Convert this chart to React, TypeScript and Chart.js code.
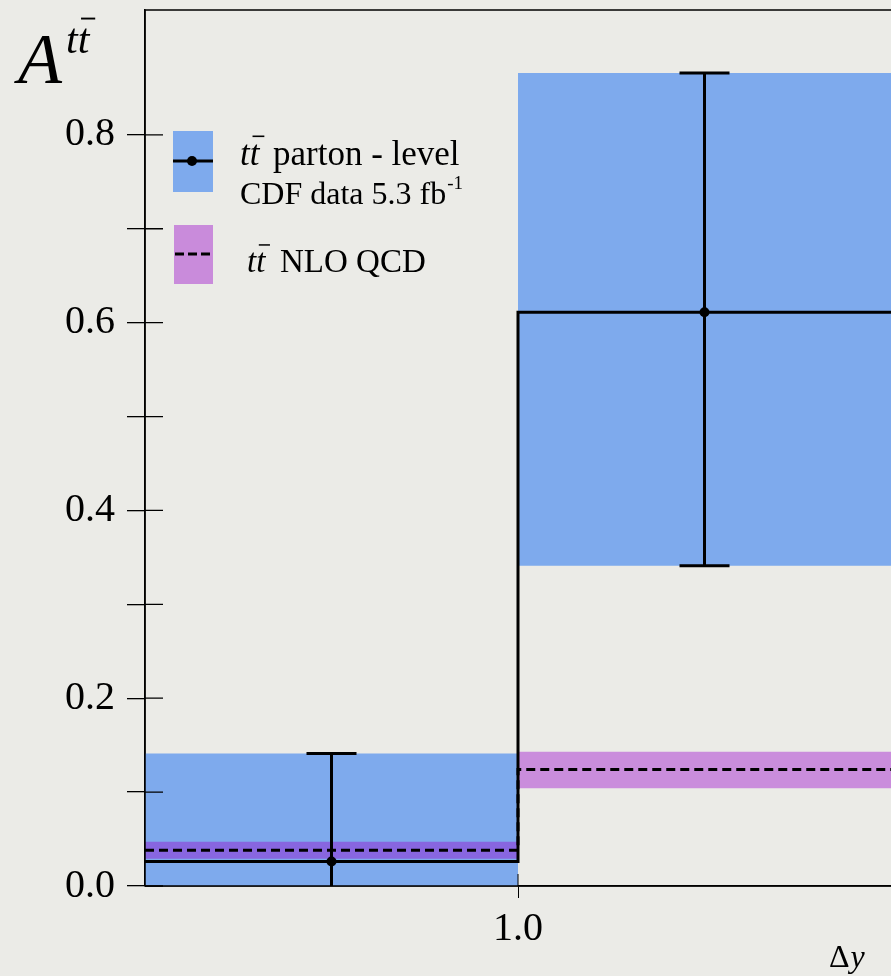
import React, { useRef, useEffect } from 'react';
import { Chart, registerables } from 'chart.js';

Chart.register(...registerables);

// bins in Δy
const binEdges = [0, 1, 2];
// CDF data, parton level
const dataCentral = [0.026, 0.611];
const dataLow = [-0.09, 0.341];
const dataHigh = [0.141, 0.866];
// NLO QCD prediction
const nloCentral = [0.038, 0.124];
const nloLow = [0.029, 0.104];
const nloHigh = [0.047, 0.143];
// axis ticks
const yTickValues = [0, 0.1, 0.2, 0.3, 0.4, 0.5, 0.6, 0.7, 0.8];
const yTickLabels = ['0.0', '', '0.2', '', '0.4', '', '0.6', '', '0.8'];
const xTickValues = [1];
const xTickLabels = ['1.0'];

const SERIF = '"Liberation Serif", "Times New Roman", serif';
const BLUE = 'rgb(126, 170, 237)';
const PURPLE = 'rgba(152, 0, 205, 0.4)';
const BG = '#ebebe7';

const stepPoints = (vals: number[]) =>
  binEdges.map((x, i) => ({ x, y: vals[Math.min(i, vals.length - 1)] }));
const binCentres = binEdges.slice(0, -1).map((e, i) => (e + binEdges[i + 1]) / 2);

// no extra room for edge labels, the plot box is set by hand
const noPadding = (scale: any) => {
  scale.paddingTop = 0;
  scale.paddingBottom = 0;
  scale.paddingLeft = 0;
  scale.paddingRight = 0;
};

// frame lines and tick marks reaching into the plot
const framePlugin = {
  id: 'frame',
  afterDraw(chart: any) {
    const { ctx, chartArea: a, scales } = chart;
    ctx.save();
    ctx.strokeStyle = '#000';
    ctx.lineWidth = 1.5;
    ctx.beginPath();
    ctx.moveTo(a.left, a.bottom);
    ctx.lineTo(a.left, a.top);
    ctx.lineTo(a.right, a.top);
    ctx.moveTo(a.left, a.bottom);
    ctx.lineTo(a.right, a.bottom);
    ctx.stroke();
    ctx.lineWidth = 1.3;
    ctx.beginPath();
    yTickValues.forEach(v => {
      const y = scales.y.getPixelForValue(v);
      ctx.moveTo(a.left, y);
      ctx.lineTo(a.left + 18, y);
    });
    ctx.stroke();
    ctx.lineWidth = 1;
    ctx.beginPath();
    xTickValues.forEach(v => {
      const x = scales.x.getPixelForValue(v);
      ctx.moveTo(x, a.bottom);
      ctx.lineTo(x, a.bottom - 12);
    });
    ctx.stroke();
    ctx.restore();
  },
};

const errorBarPlugin = {
  id: 'errorBars',
  afterDatasetsDraw(chart: any) {
    const { ctx, chartArea: a, scales } = chart;
    ctx.save();
    ctx.beginPath();
    ctx.rect(a.left, a.top, a.right - a.left, a.bottom - a.top);
    ctx.clip();
    ctx.strokeStyle = '#000';
    ctx.lineWidth = 3;
    binCentres.forEach((c, i) => {
      const x = scales.x.getPixelForValue(c);
      const yl = scales.y.getPixelForValue(dataLow[i]);
      const yh = scales.y.getPixelForValue(dataHigh[i]);
      ctx.beginPath();
      ctx.moveTo(x, yl);
      ctx.lineTo(x, yh);
      ctx.moveTo(x - 25, yh);
      ctx.lineTo(x + 25, yh);
      ctx.moveTo(x - 25, yl);
      ctx.lineTo(x + 25, yl);
      ctx.stroke();
    });
    ctx.restore();
  },
};

const drawTTbar = (ctx: CanvasRenderingContext2D, x: number, y: number, size: number) => {
  ctx.font = `italic ${size}px ${SERIF}`;
  ctx.fillText('tt', x, y);
  const w = ctx.measureText('t').width;
  const w2 = ctx.measureText('tt').width;
  ctx.lineWidth = Math.max(1, size / 22);
  ctx.beginPath();
  const barY = y - size * 0.82;
  ctx.moveTo(x + w + size * 0.08, barY);
  ctx.lineTo(x + w2 + size * 0.14, barY);
  ctx.stroke();
  return w2;
};

const textPlugin = {
  id: 'texts',
  afterDraw(chart: any) {
    const { ctx } = chart;
    ctx.save();
    ctx.fillStyle = '#000';
    ctx.strokeStyle = '#000';
    ctx.textBaseline = 'alphabetic';
    ctx.textAlign = 'left';

    // y title A^{tt̄}
    ctx.font = `italic 72px ${SERIF}`;
    ctx.fillText('A', 18, 83);
    drawTTbar(ctx, 66, 53, 42);

    // x title Δy
    ctx.font = `32px ${SERIF}`;
    ctx.fillText('Δ', 829, 967);
    const dw = ctx.measureText('Δ').width;
    ctx.font = `italic 32px ${SERIF}`;
    ctx.fillText('y', 829 + dw + 1, 967);

    // legend: data
    ctx.fillStyle = BLUE;
    ctx.fillRect(173, 131, 40, 61);
    ctx.fillStyle = '#000';
    ctx.lineWidth = 3;
    ctx.beginPath();
    ctx.moveTo(173, 161);
    ctx.lineTo(213, 161);
    ctx.stroke();
    ctx.beginPath();
    ctx.arc(192, 161, 5, 0, Math.PI * 2);
    ctx.fill();
    drawTTbar(ctx, 240, 165, 35);
    ctx.font = `35px ${SERIF}`;
    ctx.fillText('parton - level', 273, 165);
    ctx.font = `32px ${SERIF}`;
    ctx.fillText('CDF data 5.3 fb', 240, 204);
    const fw = ctx.measureText('CDF data 5.3 fb').width;
    ctx.font = `19px ${SERIF}`;
    ctx.fillText('-1', 240 + fw + 1, 189);

    // legend: NLO
    ctx.fillStyle = 'rgb(201, 139, 219)';
    ctx.fillRect(174, 225, 39, 59);
    ctx.fillStyle = '#000';
    ctx.lineWidth = 3;
    ctx.setLineDash([9, 4]);
    ctx.beginPath();
    ctx.moveTo(175, 254);
    ctx.lineTo(213, 254);
    ctx.stroke();
    ctx.setLineDash([]);
    drawTTbar(ctx, 247, 272, 33);
    ctx.font = `33px ${SERIF}`;
    ctx.fillText('NLO QCD', 280, 272);
    ctx.restore();
  },
};

const App: React.FC = () => {
  const chartRef = useRef<HTMLCanvasElement>(null);
  const chartInstance = useRef<Chart | null>(null);

  useEffect(() => {
    document.body.style.margin = '0';
    document.body.style.background = BG;
    if (!chartRef.current) return;
    const ctx = chartRef.current.getContext('2d');
    if (!ctx) return;

    chartInstance.current = new Chart(ctx, {
      type: 'line',
      data: {
        datasets: [
          // 0: data band lower edge
          { data: stepPoints(dataLow), stepped: 'before', borderWidth: 0, pointRadius: 0, fill: false, order: 6 },
          // 1: data band upper edge, filled down to the lower edge
          { data: stepPoints(dataHigh), stepped: 'before', borderWidth: 0, pointRadius: 0, fill: '-1', backgroundColor: BLUE, order: 5 },
          // 2: NLO band lower edge
          { data: stepPoints(nloLow), stepped: 'before', borderWidth: 0, pointRadius: 0, fill: false, order: 6 },
          // 3: NLO band upper edge
          { data: stepPoints(nloHigh), stepped: 'before', borderWidth: 0, pointRadius: 0, fill: '-1', backgroundColor: PURPLE, order: 4 },
          // 4: NLO central
          { data: stepPoints(nloCentral), stepped: 'before', borderColor: '#000', borderWidth: 3, borderDash: [9, 5], pointRadius: 0, fill: false, order: 3 },
          // 5: data central
          { data: stepPoints(dataCentral), stepped: 'before', borderColor: '#000', borderWidth: 3, pointRadius: 0, fill: false, order: 2 },
          // 6: data markers
          {
            data: binCentres.map((x, i) => ({ x, y: dataCentral[i] })),
            showLine: false, pointRadius: 5, pointBackgroundColor: '#000', pointBorderWidth: 0, fill: false, order: 1,
          },
        ],
      },
      options: {
        responsive: false,
        animation: false,
        layout: { autoPadding: false, padding: { top: 10, left: 0, right: 0, bottom: 0 } },
        plugins: { legend: { display: false }, tooltip: { enabled: false } },
        scales: {
          x: {
            type: 'linear',
            min: binEdges[0],
            max: binEdges[binEdges.length - 1],
            afterBuildTicks: (scale: any) => { scale.ticks = xTickValues.map(value => ({ value })); },
            afterFit: (scale: any) => { scale.height = 90; noPadding(scale); },
            ticks: {
              color: '#000',
              font: { family: SERIF, size: 40 },
              padding: 7,
              maxRotation: 0,
              callback: (v: any) => xTickLabels[xTickValues.indexOf(Number(v))] ?? '',
            },
            grid: { drawOnChartArea: false, tickLength: 12, color: '#000', lineWidth: 1 },
            border: { color: '#000', width: 1.5 },
          },
          y: {
            type: 'linear',
            min: 0,
            max: 0.933,
            afterBuildTicks: (scale: any) => { scale.ticks = yTickValues.map(value => ({ value })); },
            afterFit: (scale: any) => { scale.width = 145; noPadding(scale); },
            ticks: {
              color: '#000',
              font: { family: SERIF, size: 40 },
              padding: 12,
              callback: (v: any) => {
                const i = yTickValues.findIndex(t => Math.abs(t - Number(v)) < 1e-6);
                return i >= 0 ? yTickLabels[i] : '';
              },
            },
            grid: { drawOnChartArea: false, tickLength: 18, color: '#000', lineWidth: 1.3 },
            border: { color: '#000', width: 1.5 },
          },
        },
      },
      plugins: [errorBarPlugin, framePlugin, textPlugin],
    } as any);

    return () => {
      if (chartInstance.current) {
        chartInstance.current.destroy();
        chartInstance.current = null;
      }
    };
  }, []);

  return (
    <div style={{ width: 891, height: 976, background: BG }}>
      <canvas ref={chartRef} width={891} height={976} />
    </div>
  );
};

export default App;
